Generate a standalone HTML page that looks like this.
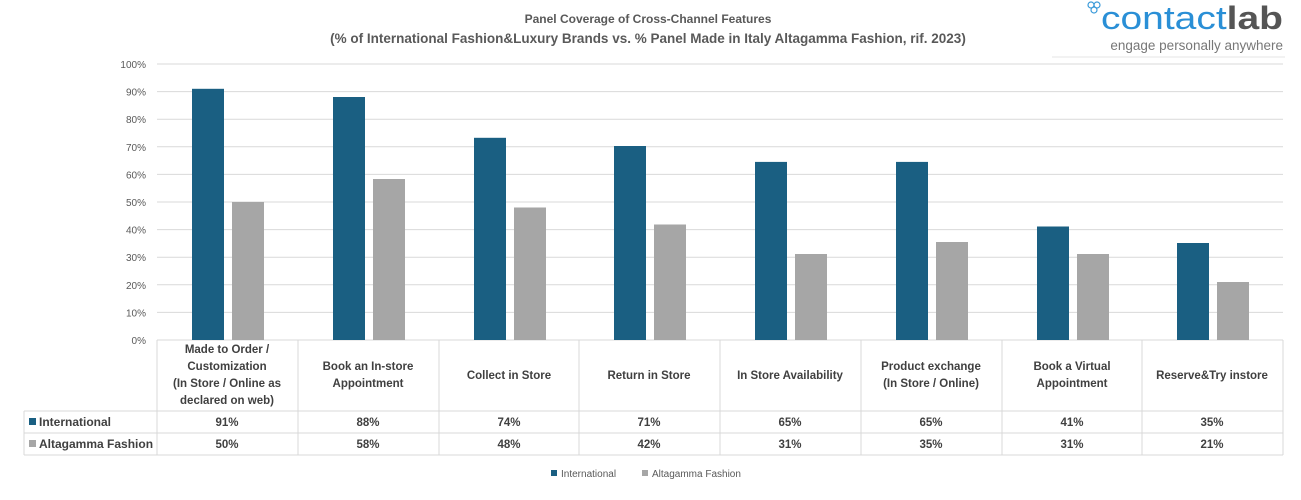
<!DOCTYPE html>
<html><head><meta charset="utf-8"><style>
body{margin:0;background:#fff;width:1301px;height:495px;overflow:hidden;font-family:"Liberation Sans",sans-serif}
</style></head><body>
<svg width="1301" height="495" xmlns="http://www.w3.org/2000/svg" font-family="Liberation Sans, sans-serif">
<text x="648" y="23" text-anchor="middle" font-size="12" font-weight="bold" fill="#595959">Panel Coverage of Cross-Channel Features</text>
<text x="648" y="43" text-anchor="middle" font-size="13.5" font-weight="bold" fill="#595959">(% of International Fashion&amp;Luxury Brands vs. % Panel Made in Italy Altagamma Fashion, rif. 2023)</text>
<g fill="none" stroke="#3a9ad9" stroke-width="1.2"><circle cx="1091" cy="5" r="3"/><circle cx="1097" cy="5" r="3"/><circle cx="1094" cy="10" r="3"/></g>
<text x="1101" y="29" font-size="32" fill="#2a8fd6" textLength="182" lengthAdjust="spacingAndGlyphs">contact<tspan fill="#555" font-weight="bold">lab</tspan></text>
<text x="1283" y="50" text-anchor="end" font-size="13.5" fill="#777">engage personally anywhere</text>
<line x1="1052" x2="1285" y1="57" y2="57" stroke="#e6e6e6"/>
<g stroke="#d9d9d9" stroke-width="1">
<line x1="157" x2="1283" y1="64" y2="64"/><line x1="157" x2="1283" y1="91.6" y2="91.6"/><line x1="157" x2="1283" y1="119.2" y2="119.2"/><line x1="157" x2="1283" y1="146.8" y2="146.8"/><line x1="157" x2="1283" y1="174.4" y2="174.4"/><line x1="157" x2="1283" y1="202" y2="202"/><line x1="157" x2="1283" y1="229.6" y2="229.6"/><line x1="157" x2="1283" y1="257.2" y2="257.2"/><line x1="157" x2="1283" y1="284.8" y2="284.8"/><line x1="157" x2="1283" y1="312.4" y2="312.4"/>
<line x1="157" x2="1283" y1="340" y2="340"/>
<line x1="24" x2="1283" y1="411" y2="411"/><line x1="24" x2="1283" y1="433" y2="433"/><line x1="24" x2="1283" y1="455" y2="455"/>
<line x1="24" x2="24" y1="411" y2="455"/>
<line x1="157" x2="157" y1="340" y2="455"/><line x1="298" x2="298" y1="340" y2="455"/><line x1="439" x2="439" y1="340" y2="455"/><line x1="579" x2="579" y1="340" y2="455"/><line x1="720" x2="720" y1="340" y2="455"/><line x1="861" x2="861" y1="340" y2="455"/><line x1="1002" x2="1002" y1="340" y2="455"/><line x1="1142" x2="1142" y1="340" y2="455"/><line x1="1283" x2="1283" y1="340" y2="455"/>
</g>
<g font-size="10" fill="#595959" text-anchor="end">
<text x="146" y="68">100%</text><text x="146" y="95.6">90%</text><text x="146" y="123.2">80%</text><text x="146" y="150.8">70%</text><text x="146" y="178.4">60%</text><text x="146" y="206">50%</text><text x="146" y="233.6">40%</text><text x="146" y="261.2">30%</text><text x="146" y="288.8">20%</text><text x="146" y="316.4">10%</text><text x="146" y="344">0%</text>
</g>
<g fill="#1a5f82">
<rect x="192" y="88.8" width="32" height="251.2"/>
<rect x="333" y="97" width="32" height="243"/>
<rect x="474" y="137.8" width="32" height="202.2"/>
<rect x="614" y="146" width="32" height="194"/>
<rect x="755" y="161.9" width="32" height="178.1"/>
<rect x="896" y="161.9" width="32" height="178.1"/>
<rect x="1037" y="226.5" width="32" height="113.5"/>
<rect x="1177" y="243" width="32" height="97"/>
</g>
<g fill="#a6a6a6">
<rect x="232" y="202" width="32" height="138"/>
<rect x="373" y="179" width="32" height="161"/>
<rect x="514" y="207.5" width="32" height="132.5"/>
<rect x="654" y="224.5" width="32" height="115.5"/>
<rect x="795" y="254" width="32" height="86"/>
<rect x="936" y="242" width="32" height="98"/>
<rect x="1077" y="254" width="32" height="86"/>
<rect x="1217" y="282" width="32" height="58"/>
</g>
<g font-size="11.5" font-weight="bold" fill="#404040" text-anchor="middle">
<text x="227" y="353">Made to Order /</text><text x="227" y="370">Customization</text><text x="227" y="387">(In Store / Online as</text><text x="227" y="404">declared on web)</text>
<text x="368" y="370">Book an In-store</text><text x="368" y="387">Appointment</text>
<text x="509" y="379">Collect in Store</text>
<text x="649" y="379">Return in Store</text>
<text x="790" y="379">In Store Availability</text>
<text x="931" y="370">Product exchange</text><text x="931" y="387">(In Store / Online)</text>
<text x="1072" y="370">Book a Virtual</text><text x="1072" y="387">Appointment</text>
<text x="1212" y="379">Reserve&amp;Try instore</text>
</g>
<rect x="29" y="418" width="7" height="7" fill="#1a5f82"/><rect x="29" y="440" width="7" height="7" fill="#a6a6a6"/>
<g font-size="12" font-weight="bold" fill="#404040">
<text x="39" y="426">International</text><text x="39" y="448">Altagamma Fashion</text>
</g>
<g font-size="11.5" font-weight="bold" fill="#404040" text-anchor="middle">
<text x="227" y="426">91%</text><text x="368" y="426">88%</text><text x="509" y="426">74%</text><text x="649" y="426">71%</text><text x="790" y="426">65%</text><text x="931" y="426">65%</text><text x="1072" y="426">41%</text><text x="1212" y="426">35%</text>
<text x="227" y="448">50%</text><text x="368" y="448">58%</text><text x="509" y="448">48%</text><text x="649" y="448">42%</text><text x="790" y="448">31%</text><text x="931" y="448">35%</text><text x="1072" y="448">31%</text><text x="1212" y="448">21%</text>
</g>
<rect x="551" y="470" width="6" height="6" fill="#1a5f82"/>
<text x="561" y="477" font-size="10" fill="#595959">International</text>
<rect x="642" y="470" width="6" height="6" fill="#a6a6a6"/>
<text x="652" y="477" font-size="10" fill="#595959">Altagamma Fashion</text>
</svg>
</body></html>
